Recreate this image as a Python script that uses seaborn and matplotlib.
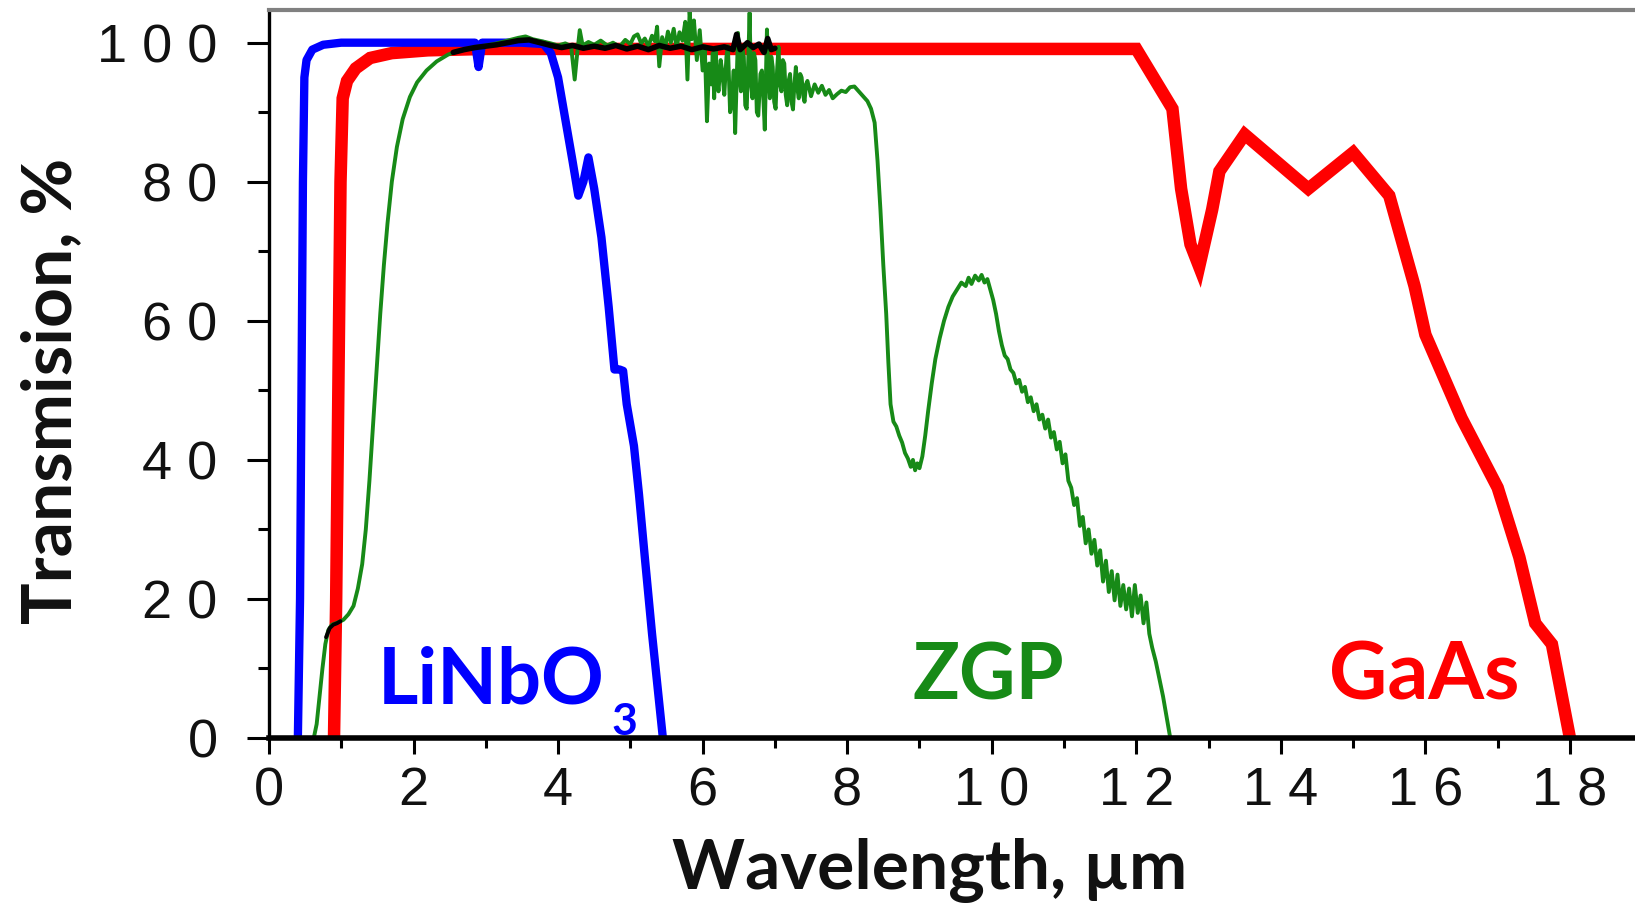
import matplotlib
matplotlib.use("Agg")
import matplotlib.pyplot as plt
from matplotlib.ticker import FixedLocator, FixedFormatter
import pandas as pd
import seaborn as sns

# ---------------- transmission spectra ----------------
# LiNbO3
linbo3_wl = [0.40, 0.43, 0.45, 0.47, 0.49, 0.52, 0.60, 0.75, 1.00, 2.00, 2.85, 2.90, 2.95,
             3.50, 3.80, 3.90, 4.00, 4.10, 4.20, 4.28, 4.35, 4.42, 4.50, 4.60, 4.70, 4.78,
             4.85, 4.90, 4.95, 5.05, 5.12, 5.20, 5.30, 5.38, 5.45]
linbo3_t = [0, 20, 50, 80, 95, 97.5, 99.0, 99.7, 100, 100, 100, 96.5, 100,
            100, 99.8, 98.5, 95, 89, 83, 78, 80, 83.5, 79, 72, 62, 53,
            53, 52.8, 48, 42, 35, 26, 15, 7, 0]

# GaAs
gaas_wl = [0.90, 0.93, 0.96, 0.99, 1.02, 1.08, 1.20, 1.40, 1.70, 2.20, 3.00, 12.00,
           12.50, 12.62, 12.75, 12.87, 13.05, 13.15, 13.50, 14.38, 15.00, 15.50,
           15.85, 16.00, 16.50, 17.00, 17.30, 17.52, 17.75, 18.00]
gaas_t = [0, 20, 50, 80, 92, 94.5, 96.3, 97.8, 98.5, 98.9, 99.1, 99.1,
          90.5, 79, 71, 67.8, 76, 81.5, 86.8, 79, 84.2, 78,
          65, 58, 46, 36, 26, 16.5, 13.5, 0]

# ZGP
zgp_wl = [0.62, 0.66, 0.70, 0.74, 0.78, 0.82, 0.87, 0.95, 1.03, 1.10, 1.17, 1.23, 1.29,
          1.34, 1.39, 1.44, 1.49, 1.54, 1.59, 1.64, 1.70, 1.77, 1.85, 1.95, 2.05, 2.18,
          2.32, 2.48, 2.65, 2.82, 3.00, 3.15, 3.30, 3.45, 3.55, 3.65, 3.78, 3.90, 4.00,
          4.10, 4.18, 4.23, 4.27, 4.30, 4.34, 4.42, 4.50, 4.59, 4.68, 4.76, 4.85, 4.93,
          5.00, 5.05, 5.10, 5.15, 5.20, 5.25, 5.30, 5.34, 5.37, 5.40, 5.44, 5.48, 5.52,
          5.56, 5.60, 5.64, 5.68, 5.72, 5.76, 5.79, 5.82, 5.85, 5.88, 5.92, 5.96, 6.00,
          6.03, 6.06, 6.09, 6.12, 6.14, 6.16, 6.18, 6.20, 6.22, 6.25, 6.27, 6.30, 6.33,
          6.35, 6.38, 6.40, 6.43, 6.45, 6.49, 6.51, 6.53, 6.55, 6.57, 6.59, 6.61, 6.63,
          6.65, 6.67, 6.69, 6.71, 6.73, 6.75, 6.77, 6.80, 6.82, 6.84, 6.86, 6.89, 6.91,
          6.93, 6.95, 6.97, 6.99, 7.01, 7.03, 7.05, 7.07, 7.09, 7.11, 7.13, 7.15, 7.17,
          7.19, 7.21, 7.23, 7.25, 7.27, 7.29, 7.31, 7.33, 7.35, 7.37, 7.39, 7.41, 7.43,
          7.45, 7.50, 7.55, 7.60,
          7.65, 7.70, 7.75, 7.80, 7.86, 7.92, 7.98, 8.04, 8.10, 8.16, 8.22, 8.28, 8.33,
          8.38, 8.42, 8.46, 8.50, 8.54, 8.57, 8.60, 8.64, 8.68, 8.72, 8.76, 8.80, 8.84,
          8.88, 8.91, 8.94, 8.97, 9.00, 9.04, 9.08, 9.12, 9.17, 9.22, 9.28, 9.34, 9.40,
          9.46, 9.52, 9.58, 9.64, 9.68, 9.72, 9.77, 9.82, 9.86, 9.90, 9.94, 9.98, 10.02,
          10.06, 10.10, 10.14, 10.18, 10.22, 10.26, 10.30, 10.34, 10.38, 10.42, 10.46,
          10.50, 10.54, 10.58, 10.62, 10.66, 10.70, 10.74, 10.78, 10.82, 10.86, 10.90,
          10.94, 10.98, 11.02, 11.06, 11.10, 11.14, 11.18, 11.22, 11.26, 11.30, 11.34,
          11.38, 11.42, 11.46, 11.50, 11.54, 11.58, 11.62, 11.66, 11.70, 11.74, 11.78,
          11.82, 11.86, 11.90, 11.94, 11.98, 12.02, 12.06, 12.10, 12.14, 12.18, 12.22,
          12.27, 12.32, 12.37, 12.42, 12.47]
zgp_t = [0, 2, 6, 10, 13.5, 15.5, 16.3, 16.6, 17.0, 17.8, 19.0, 21.5, 25,
         30, 37, 45, 53, 61, 68, 74, 80, 85, 89, 92.2, 94.3, 96.0,
         97.3, 98.3, 98.9, 99.3, 99.6, 99.9, 100.3, 100.7, 100.9, 100.5, 100.2, 99.9, 99.6,
         99.9, 99.5, 94.7, 99.0, 101.8, 99.6, 100.1, 99.7, 100.3, 99.6, 100.0, 99.4, 100.4,
         99.8, 100.9, 101.2, 99.9, 100.6, 99.5, 101.0, 100.2, 102.3, 96.6, 100.8, 99.2, 101.6,
         100.0, 102.0, 99.3, 101.5, 100.3, 103.0, 94.7, 104.5, 100.5, 103.2, 97.5, 101.8, 96.0,
         99.5, 88.7, 97.0, 94.0, 98.5, 92.0, 99.0, 95.0, 93.0, 97.5, 96.0, 92.5, 98.0,
         99.5, 90.0, 91.0, 96.0, 87.0, 101.4, 95.0, 93.0, 99.0, 98.0, 91.0, 90.5, 97.0,
         104.3, 94.0, 92.0, 98.5, 97.5, 90.0, 89.5, 95.5, 96.0, 92.0, 87.5, 101.9, 95.5,
         92.0, 98.0, 96.5, 91.5, 90.5, 96.0, 99.4, 94.0, 93.0, 97.5, 97.0, 92.5, 91.0,
         94.5, 95.5, 91.5, 90.4, 94.0, 96.5, 93.5, 92.0, 95.5, 95.0, 92.5, 91.5, 94.0,
         94.5, 92.3, 94.0, 92.8,
         93.8, 92.5, 93.2, 92.0, 92.6, 93.1, 92.9, 93.6, 93.7, 93.0, 92.3, 91.6, 90.5,
         88.5, 83, 76, 68, 61, 54, 48, 45.5, 44.8, 43.5, 42.5, 41.0, 40.2,
         39.0, 40.0, 38.5, 39.5, 38.8, 40.5, 43.5, 47, 51, 54.5, 57.5, 60, 62,
         63.5, 64.5, 65.5, 65.0, 66.2, 65.3, 66.5, 65.8, 66.6, 65.5, 66.0, 64.5, 63.0,
         61.0, 58.5, 56.5, 55.0, 54.5, 53.0, 52.5, 51.0, 51.5, 49.8, 50.5,
         48.3, 49.0, 47.0, 48.0, 45.8, 46.5, 44.5, 45.8, 43.2, 44.0, 41.5,
         42.6, 39.5, 40.8, 37.0, 36.0, 33.5, 34.5, 30.5, 31.8, 28.0, 30.0,
         26.5, 28.5, 24.8, 27.0, 22.5, 25.5, 21.0, 24.0, 19.8, 23.5, 19.0,
         22.0, 18.5, 21.5, 17.5, 22.0, 18.0, 20.5, 16.5, 19.5, 15.0, 13.0,
         11.0, 8.5, 6.0, 3.0, 0]

# reference scan (black), two visible stretches
ref_a_wl = [0.79, 0.84, 0.89, 0.94, 0.99]
ref_a_t = [14.5, 15.8, 16.3, 16.5, 16.8]
ref_b_wl = [2.55, 2.70, 2.85, 3.00, 3.15, 3.30, 3.45, 3.60, 3.75, 3.90, 4.05, 4.20, 4.35,
            4.50, 4.65, 4.80, 4.95, 5.10, 5.25, 5.40, 5.55, 5.70, 5.85, 6.00, 6.15, 6.30,
            6.42, 6.47, 6.52, 6.62, 6.70, 6.78, 6.85, 6.90, 6.95, 7.00]
ref_b_t = [98.6, 99.0, 99.3, 99.5, 99.7, 100.0, 100.3, 100.4, 100.0, 99.6, 99.3, 99.6, 99.2,
           99.5, 99.2, 99.6, 99.1, 99.5, 99.0, 99.6, 99.2, 99.5, 99.0, 99.4, 99.1, 99.4,
           99.0, 101.2, 99.0, 100.0, 99.3, 99.8, 98.6, 100.6, 99.0, 99.2]

# axis ticks
x_major = [0, 2, 4, 6, 8, 10, 12, 14, 16, 18]
x_major_labels = ["0", "2", "4", "6", "8", "1 0", "1 2", "1 4", "1 6", "1 8"]
x_minor = [1, 3, 5, 7, 9, 11, 13, 15, 17]
y_major = [0, 20, 40, 60, 80, 100]
y_major_labels = ["0", "2 0", "4 0", "6 0", "8 0", "1 0 0"]
y_minor = [10, 30, 50, 70, 90]

BLUE = "#0000ff"
RED = "#ff0000"
GREEN = "#178a17"
BLACK = "#000000"

sns.set_theme(style="ticks")
plt.rcParams["font.family"] = ["Liberation Sans", "DejaVu Sans"]
plt.rcParams["axes.facecolor"] = "white"
plt.rcParams["figure.facecolor"] = "white"

fig = plt.figure(figsize=(16.35, 9.09), dpi=100)
ax = fig.add_axes([0.1645, 0.1881, 0.8355, 0.8009])


def frame(wl, t):
    return pd.DataFrame({"wavelength": wl, "transmission": t})


line_kw = dict(x="wavelength", y="transmission", sort=False, estimator=None, ax=ax)
sns.lineplot(data=frame(gaas_wl, gaas_t), color=RED, lw=9, solid_joinstyle="miter", **line_kw)
sns.lineplot(data=frame(linbo3_wl, linbo3_t), color=BLUE, lw=6, **line_kw)
sns.lineplot(data=frame(zgp_wl, zgp_t), color=GREEN, lw=2.8, **line_kw)
sns.lineplot(data=frame(ref_a_wl, ref_a_t), color=BLACK, lw=2.8, **line_kw)
sns.lineplot(data=frame(ref_b_wl, ref_b_t), color=BLACK, lw=4, **line_kw)

ax.set_xlim(0, 18.9)
ax.set_ylim(0, 104.7)

ax.xaxis.set_major_locator(FixedLocator(x_major))
ax.xaxis.set_major_formatter(FixedFormatter(x_major_labels))
ax.xaxis.set_minor_locator(FixedLocator(x_minor))
ax.yaxis.set_major_locator(FixedLocator(y_major))
ax.yaxis.set_major_formatter(FixedFormatter(y_major_labels))
ax.yaxis.set_minor_locator(FixedLocator(y_minor))

ax.tick_params(axis="both", which="both", direction="out", color="black",
               labelcolor="#111111", labelsize=39, width=2.2)
ax.tick_params(axis="y", which="major", length=16, pad=21)
ax.tick_params(axis="y", which="minor", length=8)
ax.tick_params(axis="x", which="major", length=11.5, pad=9)
ax.tick_params(axis="x", which="minor", length=7)

ax.spines["right"].set_visible(False)
ax.spines["left"].set_color("black")
ax.spines["left"].set_linewidth(2.4)
ax.spines["bottom"].set_color("black")
ax.spines["bottom"].set_linewidth(4)
ax.spines["top"].set_color("#808080")
ax.spines["top"].set_linewidth(3)
ax.grid(False)

label_font = dict(family=["Lato", "DejaVu Sans"], weight="bold", size=50, color="#111111")
ax.set_xlabel("Wavelength, \u00b5m", va="baseline", **label_font)
ax.xaxis.set_label_coords(930 / 1635, 1 - 889 / 909, transform=fig.transFigure)
ax.set_ylabel("Transmision, %", va="baseline", ha="center", rotation=90,
              rotation_mode="anchor", **label_font)
ax.yaxis.set_label_coords(71 / 1635, 1 - 391 / 909, transform=fig.transFigure)

name_font = dict(family=["Lato", "DejaVu Sans"], weight="bold", size=56)
lin = ax.text(1.51, 5.0, "LiNbO", color=BLUE, va="baseline", ha="left", **name_font)
ax.annotate("3", xy=(1, 0), xycoords=lin, xytext=(5, 11), textcoords="offset points",
            color=BLUE, va="top", ha="left", family=["Lato", "DejaVu Sans"],
            weight="bold", size=32)
ax.text(8.9, 5.6, "ZGP", color=GREEN, va="baseline", ha="left", **name_font)
ax.text(14.66, 5.6, "GaAs", color=RED, va="baseline", ha="left", size=58,
        family=["Lato", "DejaVu Sans"], weight="bold")

fig.savefig("out.png", dpi=100, facecolor="white")
